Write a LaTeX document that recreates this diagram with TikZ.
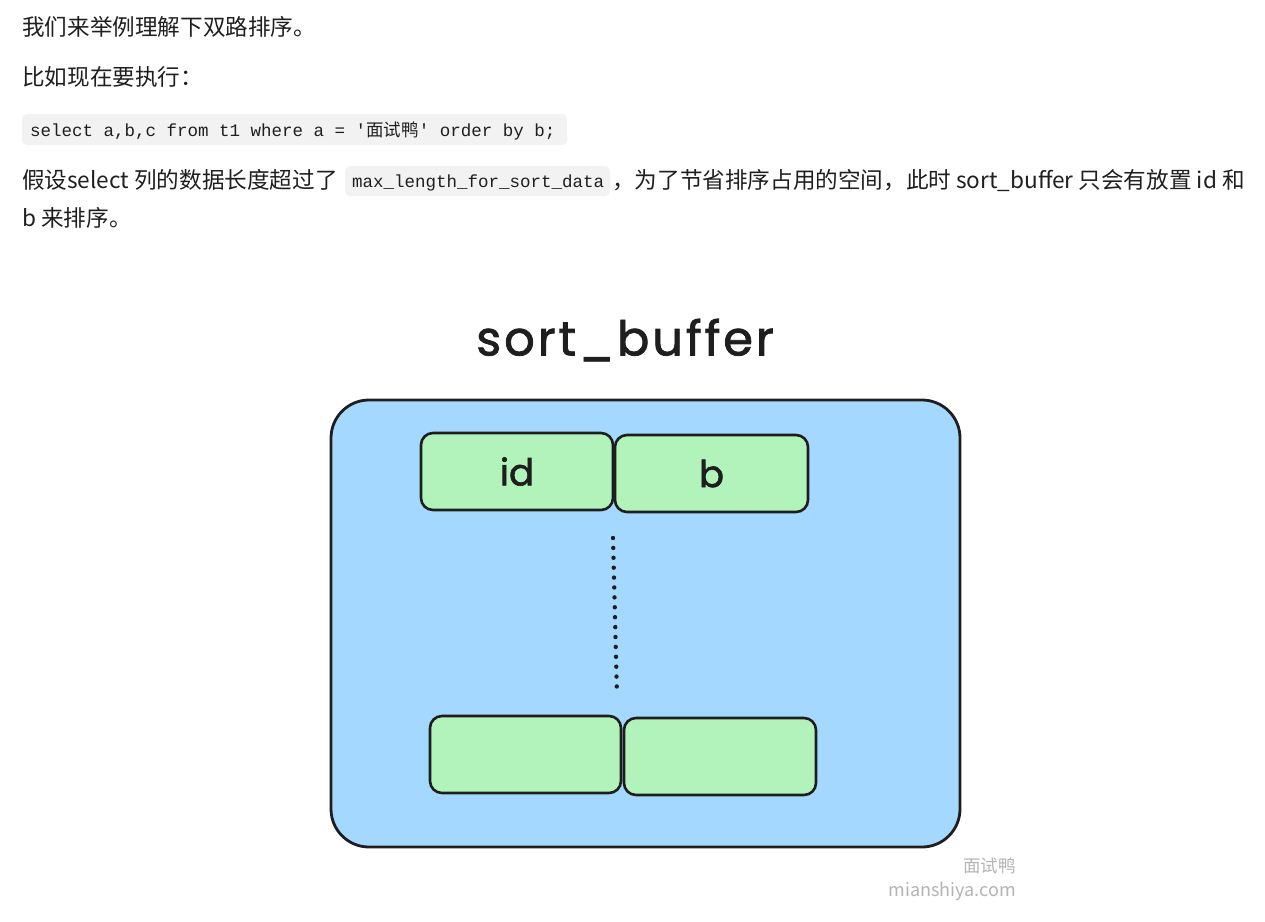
\documentclass[tikz,border=0pt]{standalone}
\usepackage{fontspec}
\setmainfont{Noto Sans CJK SC}
\newfontfamily\cjk{Noto Sans CJK SC}
\newfontfamily\codefont{Liberation Mono}
\newfontfamily\handfont[LetterSpace=6,FakeBold=1.6]{Poppins}
\newfontfamily\cellfont[FakeBold=1.6]{Poppins}
\definecolor{bodytext}{HTML}{1F1F1F}
\definecolor{codebg}{HTML}{F2F2F2}
\definecolor{bufblue}{HTML}{A5D8FF}
\definecolor{cellgreen}{HTML}{B2F2BB}
\definecolor{inkblack}{HTML}{1E1E1E}
\definecolor{wmgray}{HTML}{B4B4B4}
\tikzset{
  bodyline/.style={anchor=base west, inner sep=0pt, text=bodytext, font=\cjk\fontsize{22.6}{26}\selectfont},
  codeline/.style={anchor=base west, inner sep=0pt, text=bodytext, font=\codefont\fontsize{17.5}{20}\selectfont},
  codebox/.style={fill=codebg, draw=none, rounded corners=5pt},
  buffer/.style={fill=bufblue, draw=inkblack, line width=2.8pt, rounded corners=38pt},
  cell/.style={fill=cellgreen, draw=inkblack, line width=2.6pt, rounded corners=12pt},
  celltext/.style={inner sep=0pt, text=inkblack, font=\cellfont\fontsize{37}{40}\selectfont},
  wm/.style={anchor=base east, inner sep=0pt, text=wmgray},
}
\begin{document}
\begin{tikzpicture}[x=1pt,y=-1pt]
\useasboundingbox (0,0) rectangle (1265,921);
\fill[white] (0,0) rectangle (1265,921);
% text
\node[bodyline] (l1) at (22,35) {我们来举例理解下双路排序。};
\node[bodyline] (l2) at (22,85) {比如现在要执行：};
\fill[codebox] (22,114) rectangle (567,145);
\node[codeline] (c1) at (30,136) {select a,b,c from t1 where a = '{\cjk 面试鸭}' order by b;};
\node[bodyline] (l3a) at (22,188) {假设select 列的数据长度超过了};
\fill[codebox] (345,166) rectangle (610,196);
\node[codeline] (c2) at (352,187) {max\_length\_for\_sort\_data};
\node[bodyline] (l3b) at (612,188) {，为了节省排序占用的空间，此时 sort\_buffer 只会有放置 id 和};
\node[bodyline] (l4) at (22,226) {b 来排序。};
% diagram
\node[inner sep=0pt, text=inkblack, font=\handfont\fontsize{48}{52}\selectfont] (title) at (625,340) {sort\_buffer};
\draw[buffer] (331,400) rectangle (960,847);
\node[cell, minimum width=192pt, minimum height=77pt] (id) at (517,471.5) {};
\node[cell, minimum width=193pt, minimum height=77pt] (b) at (711.5,473.5) {};
\node[cell, minimum width=191pt, minimum height=77pt] (r1) at (525.5,754.5) {};
\node[cell, minimum width=192pt, minimum height=77pt] (r2) at (720,756.5) {};
\node[celltext] at (id.center) {id};
\node[celltext] at (b.center) {b};
\coordinate (dtop) at (613,538);
\coordinate (dbot) at (617,696);
\draw[inkblack, line width=4.4pt, line cap=round, dash pattern=on 0pt off 9.9pt] (dtop) -- (dbot);
% watermark
\node[wm, font=\cjk\fontsize{17.5}{20}\selectfont] (wm1) at (1016,872) {面试鸭};
\node[wm, font=\cjk\fontsize{18}{21}\selectfont] (wm2) at (1016,896) {mianshiya.com};
\end{tikzpicture}
\end{document}
